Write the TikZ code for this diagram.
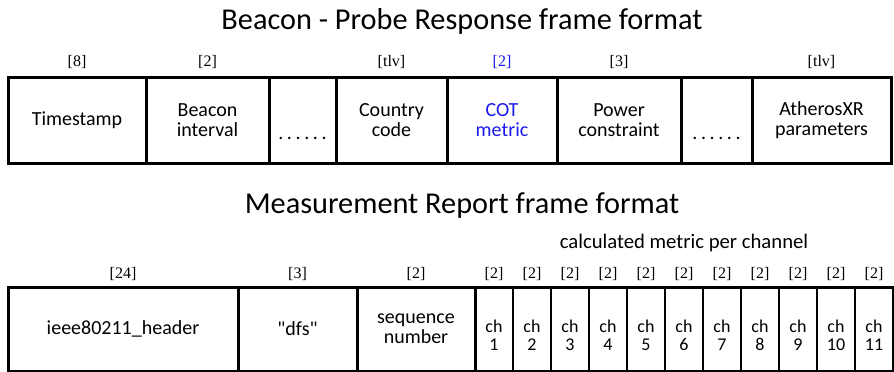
\documentclass[tikz,border=0pt]{standalone}
\usepackage{fontspec}
\usetikzlibrary{positioning}
\newfontfamily\boxfont{Carlito}
\newfontfamily\sizefont{Liberation Serif}
\definecolor{cotblue}{RGB}{25,25,235}
\tikzset{
	field/.style={draw, line width=3pt, minimum height=86pt, inner sep=0pt, outer sep=0pt,
		anchor=north west, align=center, font=\boxfont\fontsize{20}{20}\selectfont},
	chfield/.style={field, line width=1.2pt, minimum width=38pt, minimum height=84pt},
	chtext/.style={align=center, inner sep=0pt, font=\boxfont\fontsize{18}{18}\selectfont},
	dotmark/.style={anchor=base, inner sep=0pt, font=\boxfont\fontsize{20}{20}\selectfont},
	size/.style={inner sep=0pt, font=\sizefont\fontsize{16}{18}\selectfont},
	heading/.style={font=\boxfont\fontsize{30.3}{34}\selectfont},
}
\newcommand{\fielddots}{.\hspace{3.6pt}.\hspace{3.6pt}.\hspace{3.6pt}.\hspace{3.6pt}.\hspace{3.6pt}.}
\begin{document}
\begin{tikzpicture}[x=1pt,y=-1pt]
	\useasboundingbox (0,0) rectangle (894,372);
	% beacon / probe response
	\node[heading] (beacontitle) at (462,21) {Beacon - Probe Response frame format};
	\node[field, minimum width=138pt] (ts) at (8,77) {Timestamp};
	\node[field, minimum width=123pt] (bi) at (146,77) {Beacon\\interval};
	\node[field, minimum width=67pt] (dotsa) at (269,77) {};
	\node[field, minimum width=111pt] (cc) at (336,77) {Country\\code};
	\node[field, minimum width=110pt, text=cotblue] (cot) at (447,77) {COT\\metric};
	\node[field, minimum width=124pt] (pc) at (557,77) {Power\\constraint};
	\node[field, minimum width=71pt] (dotsb) at (681,77) {};
	\node[field, minimum width=139pt] (xr) at (752,77) {AtherosXR\\parameters};
	\node[dotmark] (dotsatext) at ([yshift=-19pt]dotsa.center) {\fielddots};
	\node[dotmark] (dotsbtext) at ([yshift=-19pt]dotsb.center) {\fielddots};
	\node[size, above=8pt of ts] (tssize) {[8]};
	\node[size, above=8pt of bi] (bisize) {[2]};
	\node[size, above=8pt of cc] (ccsize) {[tlv]};
	\node[size, above=8pt of cot, text=cotblue] (cotsize) {[2]};
	\node[size, above=8pt of pc] (pcsize) {[3]};
	\node[size, above=8pt of xr] (xrsize) {[tlv]};
	% measurement report
	\node[heading] (reporttitle) at (462,206) {Measurement Report frame format};
	\node[field, minimum width=230pt, minimum height=84pt] (hdr) at (8,287) {ieee80211\_header};
	\node[field, minimum width=119pt, minimum height=84pt] (dfs) at (238,287) {"dfs"};
	\node[field, minimum width=118pt, minimum height=84pt] (seq) at (357,287) {sequence\\number};
	\foreach \i in {1,...,11} {
		\node[chfield] (ch\i) at ({475+38*(\i-1)},287) {};
		\node[chtext] (ch\i text) at ([yshift=-6pt]ch\i.center) {ch\\\i};
		\node[size, above=6pt of ch\i] (ch\i size) {[2]};
	}
	\node[size, above=6pt of hdr] (hdrsize) {[24]};
	\node[size, above=6pt of dfs] (dfssize) {[3]};
	\node[size, above=6pt of seq] (seqsize) {[2]};
	\node[font=\boxfont\fontsize{20.7}{22}\selectfont] (perch) at (684,243) {calculated metric per channel};
	\draw[line width=3pt] (ch1.north west) rectangle (ch11.south east);
\end{tikzpicture}
\end{document}
